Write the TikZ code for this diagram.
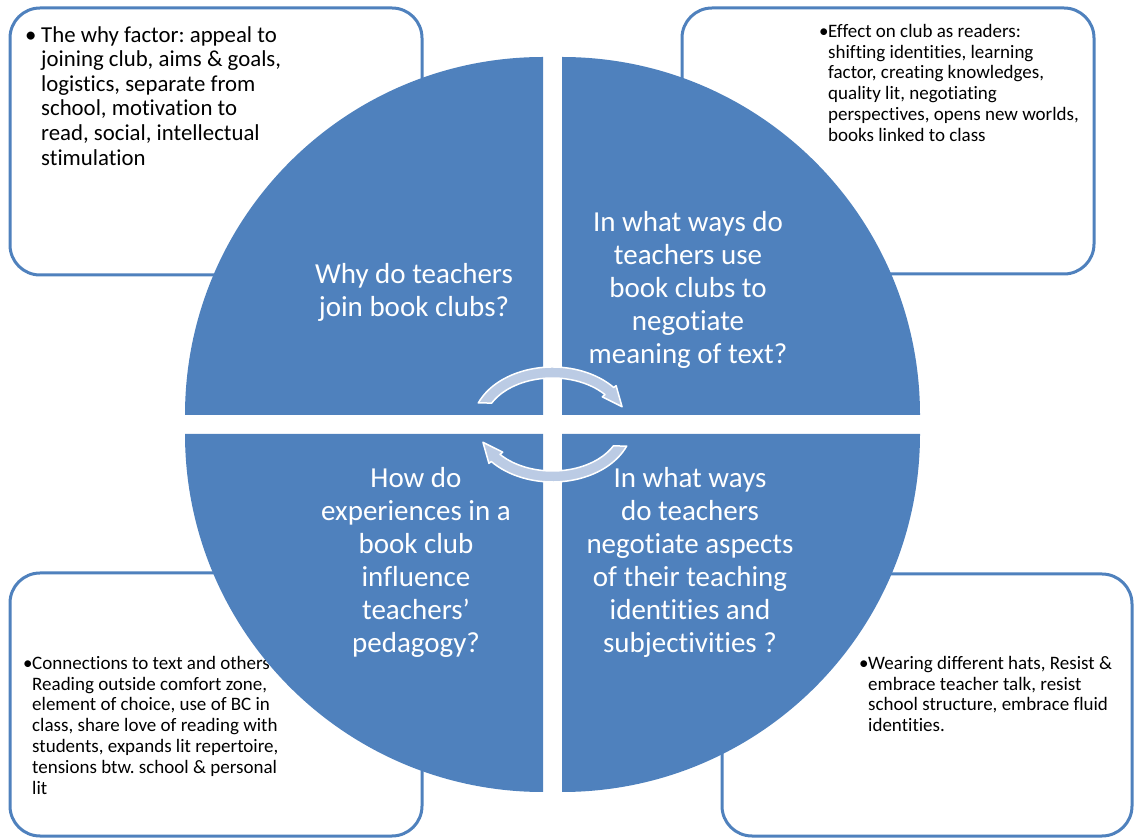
\documentclass[tikz,border=0pt]{standalone}
\usepackage{fontspec}
\setmainfont{Carlito}[Ligatures=NoCommon]
\frenchspacing
\definecolor{qblue}{HTML}{4F81BD}
\definecolor{arrfill}{HTML}{BBCBE4}
\begin{document}
\begin{tikzpicture}[x=1pt,y=1pt,
  cbox/.style={draw=qblue, line width=3pt, fill=white, rounded corners=30pt},
  quad/.style={fill=qblue},
  qtext/.style={text=white, align=center, inner sep=0pt, font=\fontsize{29}{33}\selectfont},
  btextL/.style={text=black, align=left, inner sep=0pt, anchor=north west, font=\fontsize{22.8}{24.6}\selectfont\frenchspacing},
  btextS/.style={text=black, align=left, inner sep=0pt, anchor=north west, font=\fontsize{19}{20.8}\selectfont\frenchspacing},
  carrow/.style={fill=arrfill, draw=white, line width=1.5pt, line join=round}
]
\useasboundingbox (0,0) rectangle (1135,838);
% corner boxes
\draw[cbox] (10,563) rectangle (422,830);
\draw[cbox] (682,564) rectangle (1094,830);
\draw[cbox] (10,2) rectangle (422,265);
\draw[cbox] (722,2) rectangle (1132,264);
% box texts
\node[btextL] (tl) at (22,812) {\makebox[19pt][l]{\hspace{3pt}•}The why factor: appeal to\\
\hspace*{19pt}joining club, aims \& goals,\\
\hspace*{19pt}logistics, separate from\\
\hspace*{19pt}school, motivation to\\
\hspace*{19pt}read, social, intellectual\\
\hspace*{19pt}stimulation};
\node[btextS] (tr) at (819,814) {\makebox[9pt][l]{•}Effect on club as readers:\\
\hspace*{9pt}shifting identities, learning\\
\hspace*{9pt}factor, creating knowledges,\\
\hspace*{9pt}quality lit, negotiating\\
\hspace*{9pt}perspectives, opens new worlds,\\
\hspace*{9pt}books linked to class};
\node[btextS] (bl) at (23,182) {\makebox[9pt][l]{•}Connections to text and others\\
\hspace*{9pt}Reading outside comfort zone,\\
\hspace*{9pt}element of choice, use of BC in\\
\hspace*{9pt}class, share love of reading with\\
\hspace*{9pt}students, expands lit repertoire,\\
\hspace*{9pt}tensions btw. school \& personal\\
\hspace*{9pt}lit};
\node[btextS] (br) at (859,182) {\makebox[9pt][l]{•}Wearing different hats, Resist \&\\
\hspace*{9pt}embrace teacher talk, resist\\
\hspace*{9pt}school structure, embrace fluid\\
\hspace*{9pt}identities.};
% quadrants
\fill[quad] (543,423) -- ++(-358,0) arc[start angle=180, end angle=90, radius=358] -- cycle;
\fill[quad] (562,423) -- ++(0,358) arc[start angle=90, end angle=0, radius=358] -- cycle;
\fill[quad] (562,404) -- ++(358,0) arc[start angle=0, end angle=-90, radius=358] -- cycle;
\fill[quad] (543,404) -- ++(0,-358) arc[start angle=270, end angle=180, radius=358] -- cycle;
% quadrant texts
\node[qtext] (q1) at (414,546) {Why do teachers\\join book clubs?};
\node[qtext] (q2) at (688,548.5) {In what ways do\\teachers use\\book clubs to\\negotiate\\meaning of text?};
\node[qtext] (q3) at (416,276) {How do\\experiences in a\\book club\\influence\\teachers’\\pedagogy?};
\node[qtext] (q4) at (690,276) {In what ways\\do teachers\\negotiate aspects\\of their teaching\\identities and\\subjectivities ?};
% circular arrows
\begin{scope}[shift={(552.5,413.5)}]
\path[carrow] (158:80 and 57.5) arc[start angle=158, end angle=40, x radius=80, y radius=57.5]
  -- (40:83 and 60.5) -- (20:74 and 52) -- (40:65 and 43) -- (40:68.5 and 46.5)
  arc[start angle=40, end angle=152.5, x radius=68.5, y radius=46.5] -- cycle;
\end{scope}
\begin{scope}[shift={(552.5,413.5)}, rotate=180]
\path[carrow] (158:80 and 57.5) arc[start angle=158, end angle=40, x radius=80, y radius=57.5]
  -- (40:83 and 60.5) -- (20:74 and 52) -- (40:65 and 43) -- (40:68.5 and 46.5)
  arc[start angle=40, end angle=152.5, x radius=68.5, y radius=46.5] -- cycle;
\end{scope}
\end{tikzpicture}
\end{document}
